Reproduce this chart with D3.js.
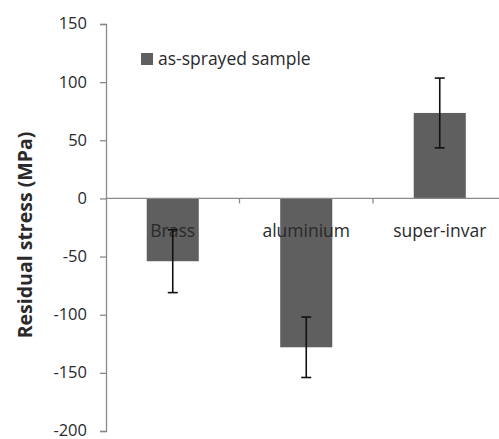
<!DOCTYPE html>
<html>
<head>
<meta charset="utf-8">
<script src="https://cdn.jsdelivr.net/npm/d3@7"></script>
<style>
  body { margin: 0; background: #fff; }
  text { font-family: "Open Sans", sans-serif; }
</style>
</head>
<body>
<div id="chart"></div>
<script>
// data
const categories = ["Brass", "aluminium", "super-invar"];
const stress = [-54, -128, 73.5];
const errors = [27, 26, 30];
const yTicks = [150, 100, 50, 0, -50, -100, -150, -200];
const seriesName = "as-sprayed sample";

const width = 499, height = 439;
const margin = {top: 24, right: 0, bottom: 8, left: 106};

const svg = d3.select("#chart")
    .append("svg")
    .attr("width", width)
    .attr("height", height);

const y = d3.scaleLinear()
    .domain([-200, 150])
    .range([431, margin.top]);

const x = d3.scaleBand()
    .domain(categories)
    .range([margin.left, margin.left + 3 * 133.5])
    .paddingInner(0.61)
    .paddingOuter(0.305);

const data = categories.map((c, i) => ({cat: c, v: stress[i], e: errors[i]}));

// y axis (hyphen minus like the original, not the unicode minus)
const yAxis = svg.append("g")
    .attr("transform", `translate(${margin.left},0)`)
    .call(d3.axisLeft(y).tickValues(yTicks).tickSize(6).tickPadding(13)
        .tickFormat(d => String(d)));
yAxis.select(".domain").attr("stroke", "#8a8a8a").attr("stroke-width", 1.3);
yAxis.selectAll(".tick line").attr("stroke", "#8a8a8a").attr("stroke-width", 1.3);
yAxis.selectAll(".tick text")
    .attr("font-family", "Open Sans, sans-serif")
    .attr("font-size", 16.5)
    .attr("dy", "0.3em")
    .attr("fill", "#2a2a2a");

// bars
svg.append("g")
    .selectAll("rect")
    .data(data)
    .join("rect")
    .attr("x", d => x(d.cat))
    .attr("width", x.bandwidth())
    .attr("y", d => y(Math.max(0, d.v)))
    .attr("height", d => Math.abs(y(d.v) - y(0)))
    .attr("fill", "#5f5f5f");

// zero line with category ticks
svg.append("line")
    .attr("x1", margin.left).attr("x2", width)
    .attr("y1", y(0)).attr("y2", y(0))
    .attr("stroke", "#8a8a8a").attr("stroke-width", 1.3);

const step = x.step();
svg.append("g")
    .selectAll("line")
    .data(categories.slice(1))
    .join("line")
    .attr("x1", d => x(d) - step * x.paddingInner() / 2)
    .attr("x2", d => x(d) - step * x.paddingInner() / 2)
    .attr("y1", y(0)).attr("y2", y(0) + 5)
    .attr("stroke", "#8a8a8a").attr("stroke-width", 1.3);

// category labels
svg.append("g")
    .selectAll("text")
    .data(categories)
    .join("text")
    .attr("x", d => x(d) + x.bandwidth() / 2)
    .attr("y", y(0) + 39)
    .attr("text-anchor", "middle")
    .attr("font-size", 17.5)
    .attr("fill", "#2a2a2a")
    .text(d => d);

// error bars
const eb = svg.append("g")
    .attr("stroke", "#111")
    .attr("stroke-width", 1.6);
data.forEach(d => {
    const cx = x(d.cat) + x.bandwidth() / 2;
    eb.append("line")
        .attr("x1", cx).attr("x2", cx)
        .attr("y1", y(d.v + d.e)).attr("y2", y(d.v - d.e));
    [d.v + d.e, d.v - d.e].forEach(v => {
        eb.append("line")
            .attr("x1", cx - 5).attr("x2", cx + 5)
            .attr("y1", y(v)).attr("y2", y(v));
    });
});

// legend
svg.append("rect")
    .attr("x", 141).attr("y", 53)
    .attr("width", 12).attr("height", 12)
    .attr("fill", "#5f5f5f");
svg.append("text")
    .attr("x", 158).attr("y", 65)
    .attr("font-size", 17.5)
    .attr("fill", "#2a2a2a")
    .text(seriesName);

// y axis title
svg.append("text")
    .attr("transform", "translate(32,235) rotate(-90)")
    .attr("text-anchor", "middle")
    .attr("font-size", 19.5)
    .attr("font-weight", "bold")
    .attr("fill", "#2a2a2a")
    .text("Residual stress (MPa)");
</script>
</body>
</html>
